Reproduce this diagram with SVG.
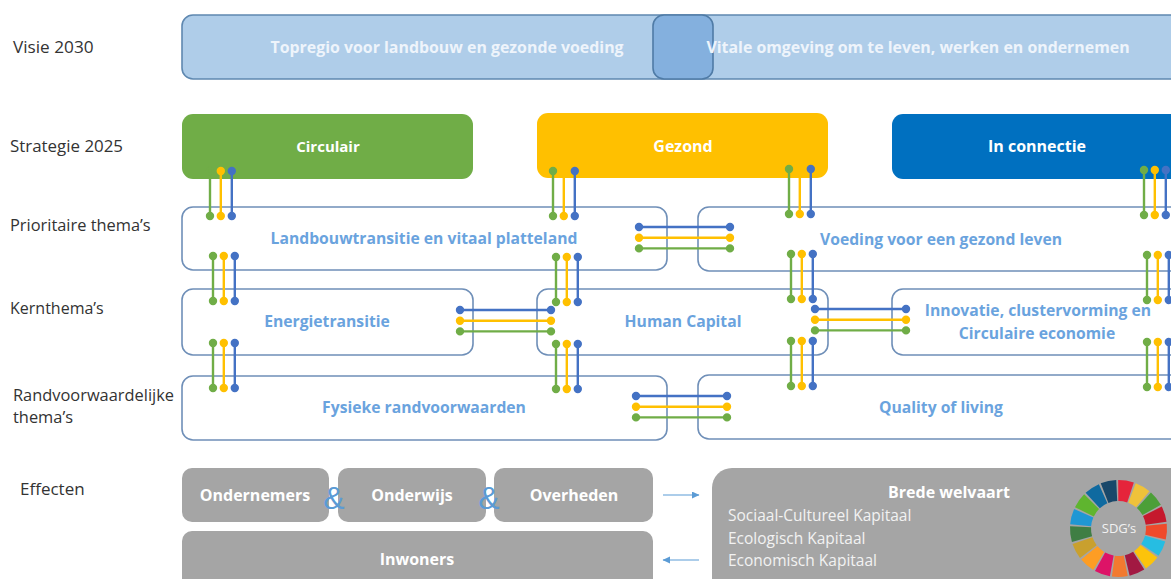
<svg xmlns="http://www.w3.org/2000/svg" width="1171" height="579" viewBox="0 0 1171 579">
<style>
text{font-family:"Open Sans","Liberation Sans",sans-serif}
.lab{font-size:16.4px;fill:#333}
.w{font-size:16px;font-weight:700;fill:#fff;text-anchor:middle}
.vis{font-size:15.9px;font-weight:700;fill:#eef4fb;text-anchor:middle}
.b{font-size:15.7px;font-weight:700;fill:#6aa3de;text-anchor:middle}
.o{fill:#fff;stroke:#6f8fb8;stroke-width:1.6}
.g{fill:#a5a5a5}
.amp{font-size:32px;fill:#5b9bd5;text-anchor:middle;font-family:"Liberation Sans",sans-serif}
.k{font-size:15.5px;fill:#f2f2f2}
.c1{stroke:#70ad47;fill:#70ad47;stroke-width:2.4}.c2{stroke:#ffc000;fill:#ffc000;stroke-width:2.4}.c3{stroke:#4472c4;fill:#4472c4;stroke-width:2.4}
.s{fill:none;stroke-width:21;stroke-dasharray:12.5 400}
</style>
<defs>
<marker id="ah" markerWidth="8" markerHeight="8" refX="7" refY="3.5" orient="auto" markerUnits="userSpaceOnUse"><path d="M0 0L7.5 3.5L0 7z" fill="#5b9bd5"/></marker>
<g id="v3"><line class="c1" x1="0" y1="0" x2="0" y2="45"/><circle class="c1" cx="0" cy="0" r="3"/><circle class="c1" cx="0" cy="45" r="3"/><line class="c2" x1="10.8" y1="0" x2="10.8" y2="45"/><circle class="c2" cx="10.8" cy="0" r="3"/><circle class="c2" cx="10.8" cy="45" r="3"/><line class="c3" x1="21.8" y1="0" x2="21.8" y2="45"/><circle class="c3" cx="21.8" cy="0" r="3"/><circle class="c3" cx="21.8" cy="45" r="3"/></g>
<g id="h3"><line class="c3" x1="0" y1="0" x2="91" y2="0"/><circle class="c3" cx="0" cy="0" r="3"/><circle class="c3" cx="91" cy="0" r="3"/><line class="c2" x1="0" y1="10.7" x2="91" y2="10.7"/><circle class="c2" cx="0" cy="10.7" r="3"/><circle class="c2" cx="91" cy="10.7" r="3"/><line class="c1" x1="0" y1="21.4" x2="91" y2="21.4"/><circle class="c1" cx="0" cy="21.4" r="3"/><circle class="c1" cx="91" cy="21.4" r="3"/></g>
</defs>
<rect width="1171" height="579" fill="#fff"/>
<g id="labels">
<text class="lab" x="13" y="53" style="font-size:17.2px">Visie 2030</text>
<text class="lab" x="10" y="152" style="font-size:16.9px">Strategie 2025</text>
<text class="lab" x="10" y="231">Prioritaire thema’s</text>
<text class="lab" x="10" y="314" style="font-size:16px">Kernthema’s</text>
<text class="lab" x="13" y="401">Randvoorwaardelijke</text>
<text class="lab" x="13" y="423">thema’s</text>
<text class="lab" x="20" y="495" style="font-size:17px">Effecten</text>
</g>
<g id="visie">
<rect x="182" y="15" width="1010" height="64" rx="11" fill="#afcde9" stroke="#5f88b0" stroke-width="1.6"/>
<rect x="653" y="15" width="60" height="64" rx="11" fill="#84b0de" stroke="#4f7ba6" stroke-width="1.6"/>
<text class="vis" x="447" y="53">Topregio voor landbouw en gezonde voeding</text>
<text class="vis" x="918" y="53">Vitale omgeving om te leven, werken en ondernemen</text>
</g>
<g id="strategie-circulair"><rect x="182" y="114" width="291" height="65" rx="11" fill="#70ad47"/><text class="w" x="328" y="152" style="font-size:15px">Circulair</text></g>
<g id="strategie-gezond"><rect x="537" y="113" width="291" height="65" rx="11" fill="#ffc000"/><text class="w" x="683" y="152">Gezond</text></g>
<g id="strategie-connectie"><rect x="892" y="114" width="300" height="65" rx="11" fill="#0070c0"/><text class="w" x="1037" y="152">In connectie</text></g>
<g id="landbouw"><rect class="o" x="182" y="207" width="485" height="63" rx="11"/><text class="b" x="424" y="244">Landbouwtransitie en vitaal platteland</text></g>
<g id="voeding"><rect class="o" x="698" y="207" width="494" height="64" rx="11"/><text class="b" x="941" y="245">Voeding voor een gezond leven</text></g>
<g id="energie"><rect class="o" x="182" y="289" width="291" height="66" rx="11"/><text class="b" x="327" y="327">Energietransitie</text></g>
<g id="human"><rect class="o" x="537" y="289" width="291" height="66" rx="11"/><text class="b" x="683" y="327">Human Capital</text></g>
<g id="innovatie"><rect class="o" x="892" y="289" width="300" height="66" rx="11"/><text class="b" x="1038" y="316">Innovatie, clustervorming en</text><text class="b" x="1037" y="339">Circulaire economie</text></g>
<g id="fysiek"><rect class="o" x="182" y="376" width="485" height="64" rx="11"/><text class="b" x="424" y="413">Fysieke randvoorwaarden</text></g>
<g id="quality"><rect class="o" x="698" y="375" width="494" height="64" rx="11"/><text class="b" x="941" y="413">Quality of living</text></g>
<g id="connectors">
<use href="#v3" x="210" y="171"/><use href="#v3" x="213" y="256"/><use href="#v3" x="213" y="343"/>
<use href="#v3" x="553" y="171"/><use href="#v3" x="556" y="257"/><use href="#v3" x="556" y="344"/>
<use href="#v3" x="789" y="169"/><use href="#v3" x="791" y="254"/><use href="#v3" x="791" y="341"/>
<use href="#v3" x="1144" y="170"/><use href="#v3" x="1147" y="255"/><use href="#v3" x="1147" y="342"/>
<use href="#h3" x="639" y="227"/><use href="#h3" x="460" y="310"/><use href="#h3" x="815" y="309"/><use href="#h3" x="636" y="396"/>
<line x1="663" y1="495" x2="699" y2="495" stroke="#5b9bd5" stroke-width="1.2" marker-end="url(#ah)"/>
<line x1="699" y1="560" x2="663" y2="560" stroke="#5b9bd5" stroke-width="1.2" marker-end="url(#ah)"/>
</g>
<g id="ondernemers"><rect class="g" x="182" y="468" width="147" height="54" rx="10"/><text class="w" x="255" y="501">Ondernemers</text></g>
<g id="onderwijs"><rect class="g" x="338" y="468" width="148" height="54" rx="10"/><text class="w" x="412" y="501">Onderwijs</text></g>
<g id="overheden"><rect class="g" x="494" y="468" width="159" height="54" rx="10"/><text class="w" x="574" y="501">Overheden</text></g>
<text class="amp" x="334" y="509">&amp;</text>
<text class="amp" x="489" y="509">&amp;</text>
<g id="inwoners"><rect class="g" x="182" y="531" width="471" height="70" rx="10"/><text class="w" x="417" y="565">Inwoners</text></g>
<g id="welvaart"><rect class="g" x="712" y="468" width="480" height="130" rx="20"/>
<text class="w" x="949" y="498">Brede welvaart</text>
<text class="k" x="728" y="521">Sociaal-Cultureel Kapitaal</text>
<text class="k" x="728" y="544">Ecologisch Kapitaal</text>
<text class="k" x="728" y="566">Economisch Kapitaal</text>
<g id="sdg">
<circle class="s" cx="1118.5" cy="528.5" r="38" stroke="#e5243b" transform="rotate(-90.4 1118.5 528.5)"/>
<circle class="s" cx="1118.5" cy="528.5" r="38" stroke="#efc23a" transform="rotate(-69.2 1118.5 528.5)"/>
<circle class="s" cx="1118.5" cy="528.5" r="38" stroke="#4c9f38" transform="rotate(-48 1118.5 528.5)"/>
<circle class="s" cx="1118.5" cy="528.5" r="38" stroke="#c5192d" transform="rotate(-26.9 1118.5 528.5)"/>
<circle class="s" cx="1118.5" cy="528.5" r="38" stroke="#ef4a2b" transform="rotate(-5.7 1118.5 528.5)"/>
<circle class="s" cx="1118.5" cy="528.5" r="38" stroke="#26bde2" transform="rotate(15.5 1118.5 528.5)"/>
<circle class="s" cx="1118.5" cy="528.5" r="38" stroke="#fcc30b" transform="rotate(36.7 1118.5 528.5)"/>
<circle class="s" cx="1118.5" cy="528.5" r="38" stroke="#a21942" transform="rotate(57.9 1118.5 528.5)"/>
<circle class="s" cx="1118.5" cy="528.5" r="38" stroke="#f27a30" transform="rotate(79 1118.5 528.5)"/>
<circle class="s" cx="1118.5" cy="528.5" r="38" stroke="#dd1367" transform="rotate(100.2 1118.5 528.5)"/>
<circle class="s" cx="1118.5" cy="528.5" r="38" stroke="#fd9d24" transform="rotate(121.4 1118.5 528.5)"/>
<circle class="s" cx="1118.5" cy="528.5" r="38" stroke="#c9a02e" transform="rotate(142.6 1118.5 528.5)"/>
<circle class="s" cx="1118.5" cy="528.5" r="38" stroke="#3f7e44" transform="rotate(163.8 1118.5 528.5)"/>
<circle class="s" cx="1118.5" cy="528.5" r="38" stroke="#1f97d4" transform="rotate(184.9 1118.5 528.5)"/>
<circle class="s" cx="1118.5" cy="528.5" r="38" stroke="#5fb52f" transform="rotate(206.1 1118.5 528.5)"/>
<circle class="s" cx="1118.5" cy="528.5" r="38" stroke="#0f6aa0" transform="rotate(227.3 1118.5 528.5)"/>
<circle class="s" cx="1118.5" cy="528.5" r="38" stroke="#19486a" transform="rotate(248.5 1118.5 528.5)"/>
<text x="1119" y="533" font-size="13" fill="#f2f2f2" text-anchor="middle">SDG’s</text>
</g></g>
</svg>
